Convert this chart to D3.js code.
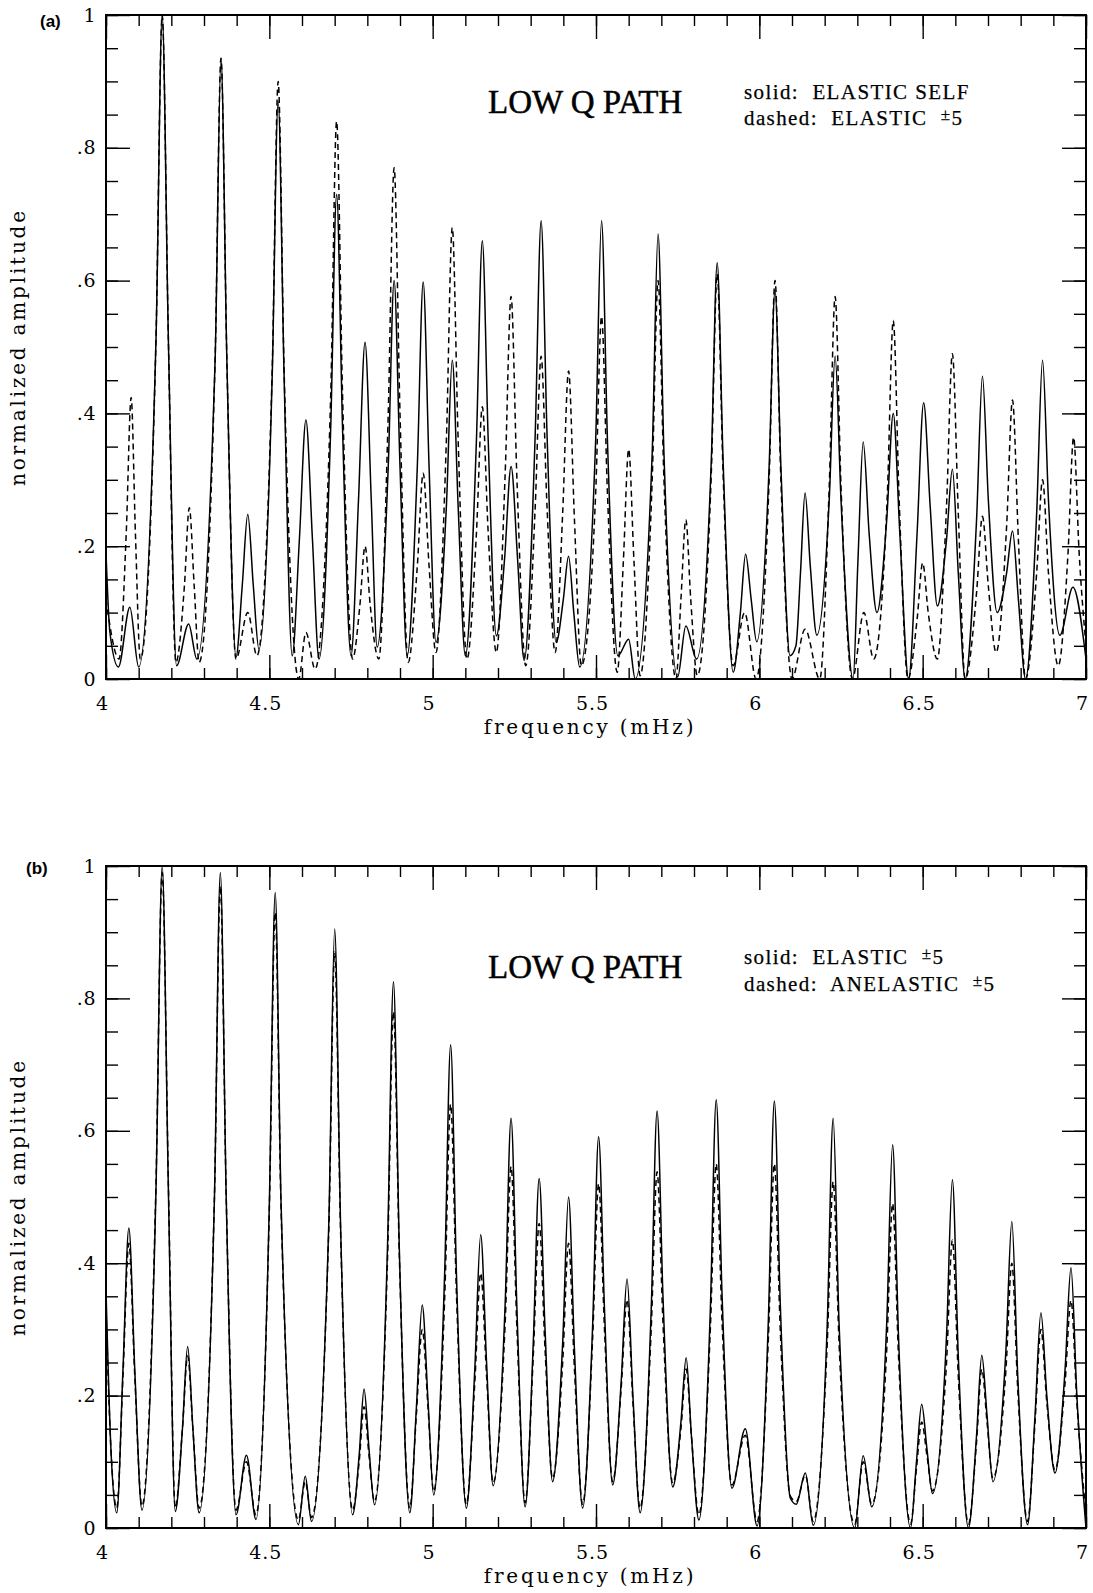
<!DOCTYPE html>
<html>
<head>
<meta charset="utf-8">
<script src="https://cdn.jsdelivr.net/npm/d3@7"></script>
<style>
  body { margin: 0; background: #fff; }
  svg { display: block; }
</style>
</head>
<body>
<svg id="chart" width="1093" height="1593"></svg>
<script>
// ---- axis values ----
const freqDomain = [4, 7];
const ampDomain = [0, 1];
const xTickValues = [4, 4.5, 5, 5.5, 6, 6.5, 7];
const xTickLabels = ["4", "4.5", "5", "5.5", "6", "6.5", "7"];
const yTickValues = [0, 0.2, 0.4, 0.6, 0.8, 1];
const yTickLabels = ["0", ".2", ".4", ".6", ".8", "1"];

// ---- spectra: [frequency (mHz), normalized amplitude] ----
// (a) solid: elastic, self coupling only
const elasticSelfA = [
  [4.000,0.190],[4.012,0.070],[4.038,0.018],[4.073,0.108],[4.100,0.018],
  [4.153,0.510],[4.172,1.000],[4.191,0.510],[4.216,0.020],
  [4.253,0.083],[4.278,0.030],
  [4.334,0.480],[4.352,0.935],[4.370,0.480],[4.398,0.033],
  [4.417,0.140],[4.434,0.248],[4.451,0.140],[4.468,0.045],
  [4.509,0.460],[4.527,0.870],[4.545,0.460],[4.570,0.035],
  [4.592,0.210],[4.612,0.390],[4.632,0.210],[4.652,0.030],
  [4.688,0.380],[4.706,0.730],[4.724,0.380],[4.750,0.035],
  [4.773,0.270],[4.793,0.507],[4.812,0.270],[4.830,0.048],
  [4.864,0.320],[4.882,0.600],[4.900,0.320],[4.922,0.035],
  [4.953,0.320],[4.971,0.598],[4.989,0.320],[5.010,0.055],
  [5.042,0.260],[5.060,0.480],[5.078,0.260],[5.100,0.035],
  [5.134,0.360],[5.152,0.660],[5.170,0.360],[5.195,0.065],
  [5.220,0.180],[5.240,0.320],[5.260,0.180],[5.280,0.028],
  [5.314,0.370],[5.332,0.690],[5.350,0.370],[5.378,0.055],
  [5.400,0.120],[5.416,0.185],[5.432,0.100],[5.450,0.018],
  [5.499,0.360],[5.517,0.690],[5.535,0.360],[5.567,0.035],
  [5.600,0.060],[5.620,0.000],
  [5.672,0.340],[5.690,0.670],[5.708,0.340],[5.750,0.003],
  [5.775,0.080],[5.808,0.030],
  [5.853,0.330],[5.871,0.627],[5.889,0.330],[5.920,0.010],
  [5.942,0.100],[5.958,0.188],[5.975,0.120],[5.992,0.056],
  [6.030,0.320],[6.048,0.585],[6.066,0.320],[6.094,0.035],[6.112,0.050],
  [6.126,0.160],[6.140,0.280],[6.156,0.170],[6.176,0.066],
  [6.214,0.270],[6.232,0.486],[6.250,0.270],[6.287,0.000],
  [6.302,0.180],[6.318,0.357],[6.336,0.220],[6.360,0.100],
  [6.390,0.240],[6.410,0.400],[6.430,0.220],[6.457,0.000],
  [6.483,0.220],[6.503,0.416],[6.523,0.260],[6.545,0.110],
  [6.573,0.210],[6.591,0.316],[6.609,0.160],[6.630,0.000],
  [6.665,0.240],[6.683,0.456],[6.701,0.270],[6.728,0.100],
  [6.757,0.160],[6.775,0.223],[6.793,0.120],[6.815,0.000],
  [6.849,0.250],[6.867,0.480],[6.885,0.270],[6.920,0.066],
  [6.960,0.138],[7.000,0.030]
];

// (a) dashed: elastic, coupling over +-5 degrees
const elasticPm5A = [
  [4.000,0.120],[4.040,0.030],
  [4.062,0.220],[4.077,0.424],[4.090,0.220],[4.105,0.030],
  [4.153,0.510],[4.172,1.000],[4.191,0.510],[4.214,0.025],
  [4.240,0.140],[4.255,0.258],[4.270,0.140],[4.285,0.025],
  [4.334,0.480],[4.352,0.935],[4.370,0.480],[4.398,0.030],
  [4.434,0.100],[4.462,0.035],
  [4.509,0.470],[4.527,0.900],[4.545,0.470],[4.590,0.000],
  [4.612,0.070],[4.640,0.015],
  [4.688,0.430],[4.706,0.840],[4.724,0.430],[4.755,0.030],
  [4.777,0.110],[4.793,0.200],[4.809,0.110],[4.835,0.030],
  [4.864,0.400],[4.882,0.770],[4.900,0.400],[4.925,0.025],
  [4.953,0.170],[4.971,0.310],[4.989,0.170],[5.010,0.040],
  [5.042,0.360],[5.060,0.680],[5.078,0.360],[5.105,0.030],
  [5.134,0.220],[5.152,0.410],[5.170,0.220],[5.195,0.040],
  [5.222,0.310],[5.240,0.576],[5.258,0.300],[5.285,0.020],
  [5.314,0.260],[5.332,0.486],[5.350,0.260],[5.375,0.040],
  [5.398,0.250],[5.416,0.464],[5.434,0.240],[5.455,0.020],
  [5.499,0.280],[5.517,0.546],[5.535,0.280],[5.565,0.010],
  [5.584,0.180],[5.600,0.346],[5.616,0.180],[5.635,0.005],
  [5.672,0.300],[5.690,0.600],[5.708,0.300],[5.745,0.000],
  [5.760,0.120],[5.775,0.240],[5.790,0.120],[5.810,0.005],
  [5.853,0.310],[5.871,0.610],[5.889,0.310],[5.920,0.020],
  [5.955,0.100],[5.990,0.000],
  [6.030,0.300],[6.048,0.600],[6.066,0.300],[6.100,0.000],
  [6.140,0.075],[6.185,0.000],
  [6.214,0.290],[6.232,0.576],[6.250,0.290],[6.285,0.000],
  [6.320,0.100],[6.350,0.030],
  [6.392,0.280],[6.410,0.540],[6.428,0.270],[6.455,0.000],
  [6.483,0.090],[6.500,0.175],[6.517,0.100],[6.545,0.030],
  [6.573,0.260],[6.591,0.490],[6.609,0.250],[6.630,0.000],
  [6.665,0.130],[6.683,0.245],[6.701,0.140],[6.725,0.040],
  [6.757,0.230],[6.775,0.420],[6.793,0.210],[6.815,0.000],
  [6.849,0.160],[6.867,0.300],[6.885,0.160],[6.915,0.020],
  [6.945,0.190],[6.962,0.364],[6.979,0.190],[7.000,0.050]
];

// (b) solid: elastic, coupling over +-5 degrees
const elasticPm5B = [
  [4.000,0.360],[4.015,0.120],[4.033,0.023],
  [4.052,0.240],[4.070,0.453],[4.088,0.240],[4.110,0.027],
  [4.153,0.510],[4.172,1.000],[4.191,0.510],[4.212,0.025],
  [4.234,0.150],[4.250,0.274],[4.266,0.150],[4.285,0.023],
  [4.332,0.500],[4.350,0.990],[4.368,0.500],[4.398,0.020],
  [4.430,0.110],[4.459,0.013],
  [4.500,0.490],[4.518,0.960],[4.536,0.490],[4.589,0.005],
  [4.610,0.078],[4.629,0.010],
  [4.682,0.460],[4.700,0.905],[4.718,0.460],[4.755,0.020],
  [4.775,0.110],[4.790,0.210],[4.805,0.120],[4.822,0.035],
  [4.862,0.430],[4.880,0.825],[4.898,0.420],[4.930,0.023],
  [4.950,0.180],[4.968,0.337],[4.986,0.190],[5.003,0.050],
  [5.037,0.390],[5.055,0.730],[5.073,0.380],[5.103,0.030],
  [5.129,0.240],[5.147,0.443],[5.165,0.250],[5.185,0.064],
  [5.222,0.340],[5.240,0.619],[5.258,0.330],[5.283,0.032],
  [5.308,0.280],[5.326,0.528],[5.344,0.300],[5.367,0.070],
  [5.398,0.280],[5.416,0.500],[5.434,0.270],[5.459,0.030],
  [5.490,0.310],[5.508,0.591],[5.526,0.330],[5.551,0.065],
  [5.577,0.220],[5.595,0.376],[5.613,0.200],[5.635,0.023],
  [5.669,0.330],[5.687,0.630],[5.705,0.350],[5.735,0.062],
  [5.760,0.160],[5.776,0.257],[5.792,0.140],[5.815,0.012],
  [5.850,0.330],[5.868,0.647],[5.886,0.350],[5.916,0.060],
  [5.957,0.150],[5.993,0.003],
  [6.028,0.320],[6.046,0.645],[6.064,0.340],[6.095,0.045],[6.113,0.036],
  [6.141,0.083],[6.165,0.004],
  [6.208,0.310],[6.226,0.619],[6.244,0.310],[6.292,0.000],
  [6.318,0.109],[6.344,0.032],
  [6.390,0.310],[6.408,0.579],[6.426,0.290],[6.463,0.000],
  [6.481,0.100],[6.497,0.187],[6.513,0.120],[6.530,0.052],
  [6.573,0.290],[6.591,0.526],[6.609,0.260],[6.640,0.000],
  [6.665,0.140],[6.681,0.261],[6.697,0.170],[6.715,0.070],
  [6.755,0.270],[6.773,0.463],[6.791,0.230],[6.821,0.005],
  [6.844,0.170],[6.862,0.325],[6.880,0.200],[6.905,0.083],
  [6.936,0.240],[6.954,0.393],[6.972,0.200],[7.000,0.000]
];

// (b) dashed: anelastic, coupling over +-5 degrees
const anelasticPm5B = [
  [4.000,0.330],[4.015,0.120],[4.033,0.030],
  [4.052,0.230],[4.070,0.430],[4.088,0.230],[4.110,0.033],
  [4.153,0.520],[4.172,0.990],[4.191,0.520],[4.212,0.030],
  [4.234,0.150],[4.250,0.260],[4.266,0.150],[4.285,0.030],
  [4.332,0.500],[4.350,0.970],[4.368,0.500],[4.398,0.027],
  [4.430,0.100],[4.459,0.020],
  [4.500,0.480],[4.518,0.930],[4.536,0.480],[4.589,0.012],
  [4.610,0.070],[4.629,0.016],
  [4.682,0.450],[4.700,0.870],[4.718,0.450],[4.755,0.027],
  [4.775,0.100],[4.790,0.183],[4.805,0.110],[4.822,0.040],
  [4.862,0.410],[4.880,0.780],[4.898,0.410],[4.930,0.030],
  [4.950,0.170],[4.968,0.300],[4.986,0.180],[5.003,0.055],
  [5.037,0.350],[5.055,0.640],[5.073,0.350],[5.103,0.036],
  [5.129,0.220],[5.147,0.385],[5.165,0.230],[5.185,0.068],
  [5.222,0.310],[5.240,0.546],[5.258,0.300],[5.283,0.038],
  [5.308,0.260],[5.326,0.460],[5.344,0.270],[5.367,0.075],
  [5.398,0.250],[5.416,0.430],[5.434,0.240],[5.459,0.036],
  [5.490,0.290],[5.508,0.520],[5.526,0.300],[5.551,0.070],
  [5.577,0.210],[5.595,0.345],[5.613,0.190],[5.635,0.030],
  [5.669,0.300],[5.687,0.538],[5.705,0.310],[5.735,0.068],
  [5.760,0.150],[5.776,0.240],[5.792,0.140],[5.815,0.020],
  [5.850,0.300],[5.868,0.550],[5.886,0.310],[5.916,0.065],
  [5.957,0.140],[5.993,0.010],
  [6.028,0.290],[6.046,0.550],[6.064,0.300],[6.095,0.048],[6.113,0.040],
  [6.141,0.080],[6.165,0.010],
  [6.208,0.280],[6.226,0.523],[6.244,0.280],[6.292,0.006],
  [6.318,0.100],[6.344,0.036],
  [6.390,0.270],[6.408,0.490],[6.426,0.260],[6.463,0.006],
  [6.481,0.090],[6.497,0.160],[6.513,0.110],[6.530,0.056],
  [6.573,0.250],[6.591,0.435],[6.609,0.230],[6.640,0.006],
  [6.665,0.130],[6.681,0.240],[6.697,0.160],[6.715,0.075],
  [6.755,0.240],[6.773,0.400],[6.791,0.210],[6.821,0.010],
  [6.844,0.160],[6.862,0.300],[6.880,0.190],[6.905,0.088],
  [6.936,0.220],[6.954,0.344],[6.972,0.190],[7.000,0.020]
];

// ---- layout ----
const plotLeft = 106, plotRight = 1086;
const panels = [
  {
    key: "a", tag: "(a)", tagX: 40, tagY: 27,
    top: 15, bottom: 679,
    solid: elasticSelfA, dashed: elasticPm5A,
    titleY: 113,
    legend: [
      { y: 99, parts: [["solid:  ELASTIC SELF"]] },
      { y: 125, parts: [["dashed:  ELASTIC  "], ["\u00B1", true], ["5"]] }
    ]
  },
  {
    key: "b", tag: "(b)", tagX: 26, tagY: 874,
    top: 866, bottom: 1528,
    solid: elasticPm5B, dashed: anelasticPm5B,
    titleY: 978,
    legend: [
      { y: 964, parts: [["solid:  ELASTIC  "], ["\u00B1", true], ["5"]] },
      { y: 991, parts: [["dashed:  ANELASTIC  "], ["\u00B1", true], ["5"]] }
    ]
  }
];

const svg = d3.select("#chart");
const x = d3.scaleLinear().domain(freqDomain).range([plotLeft, plotRight]);
const tickFont = "'DejaVu Serif', serif";
const textFont = "'Liberation Serif', 'Times New Roman', serif";

function styleAxis(sel) {
  sel.select(".domain").remove();
  sel.selectAll(".tick line").attr("stroke", "#000").attr("stroke-width", 1.4);
}

panels.forEach(p => {
  const y = d3.scaleLinear().domain(ampDomain).range([p.bottom, p.top]);
  const g = svg.append("g").attr("class", "panel-" + p.key);

  // clip for curves
  const clipId = "clip-" + p.key;
  svg.append("clipPath").attr("id", clipId)
    .append("rect")
    .attr("x", plotLeft).attr("y", p.top - 1)
    .attr("width", plotRight - plotLeft).attr("height", p.bottom - p.top + 1);

  const line = d3.line()
    .x(d => x(d[0]))
    .y(d => y(d[1]))
    .curve(d3.curveMonotoneX);

  const curves = g.append("g").attr("clip-path", `url(#${clipId})`);
  curves.append("path")
    .datum(p.solid)
    .attr("d", line)
    .attr("fill", "none")
    .attr("stroke", "#000")
    .attr("stroke-width", 1.5)
    .attr("stroke-linejoin", "round");
  curves.append("path")
    .datum(p.dashed)
    .attr("d", line)
    .attr("fill", "none")
    .attr("stroke", "#000")
    .attr("stroke-width", 1.5)
    .attr("stroke-dasharray", "6,4");

  // ticks: minor every 0.1 mHz / 0.05, major at labelled values, all pointing inward
  const minorX = x.ticks(30);
  const minorY = y.ticks(20);

  g.append("g").attr("transform", `translate(0,${p.bottom})`)
    .call(d3.axisBottom(x).tickValues(minorX).tickSize(-11).tickFormat(""))
    .call(styleAxis);
  g.append("g").attr("transform", `translate(0,${p.top})`)
    .call(d3.axisTop(x).tickValues(minorX).tickSize(-11).tickFormat(""))
    .call(styleAxis);
  g.append("g").attr("transform", `translate(0,${p.top})`)
    .call(d3.axisTop(x).tickValues(xTickValues).tickSize(-24).tickFormat(""))
    .call(styleAxis);
  g.append("g").attr("transform", `translate(${plotLeft},0)`)
    .call(d3.axisLeft(y).tickValues(minorY).tickSize(-12).tickFormat(""))
    .call(styleAxis);
  g.append("g").attr("transform", `translate(${plotRight},0)`)
    .call(d3.axisRight(y).tickValues(minorY).tickSize(-12).tickFormat(""))
    .call(styleAxis);
  g.append("g").attr("transform", `translate(${plotRight},0)`)
    .call(d3.axisRight(y).tickValues(yTickValues).tickSize(-24).tickFormat(""))
    .call(styleAxis);

  const xAxis = g.append("g").attr("transform", `translate(0,${p.bottom})`)
    .call(d3.axisBottom(x).tickValues(xTickValues).tickSize(-24).tickPadding(18)
      .tickFormat((d, i) => xTickLabels[i]))
    .call(styleAxis);
  xAxis.attr("font-family", tickFont).attr("font-size", 19);
  xAxis.selectAll(".tick text").attr("letter-spacing", 1).attr("dx", -4);

  const yAxis = g.append("g").attr("transform", `translate(${plotLeft},0)`)
    .call(d3.axisLeft(y).tickValues(yTickValues).tickSize(-24).tickPadding(10)
      .tickFormat((d, i) => yTickLabels[i]))
    .call(styleAxis);
  yAxis.attr("font-family", tickFont).attr("font-size", 19);
  yAxis.selectAll(".tick text").attr("letter-spacing", 0.5);

  // frame
  g.append("rect")
    .attr("x", plotLeft).attr("y", p.top)
    .attr("width", plotRight - plotLeft).attr("height", p.bottom - p.top)
    .attr("fill", "none").attr("stroke", "#000").attr("stroke-width", 2);

  // axis titles
  g.append("text")
    .attr("x", (plotLeft + plotRight) / 2 - 6).attr("y", p.bottom + 55)
    .attr("text-anchor", "middle")
    .attr("font-family", tickFont).attr("font-size", 20)
    .attr("letter-spacing", 2.8)
    .text("frequency (mHz)");
  g.append("text")
    .attr("transform", `translate(25,${(p.top + p.bottom) / 2}) rotate(-90)`)
    .attr("text-anchor", "middle")
    .attr("font-family", tickFont).attr("font-size", 20)
    .attr("letter-spacing", 2.8)
    .text("normalized amplitude");

  // panel tag
  g.append("text")
    .attr("x", p.tagX).attr("y", p.tagY)
    .attr("font-family", "'Liberation Sans', Arial, sans-serif")
    .attr("font-weight", "bold").attr("font-size", 17)
    .text(p.tag);

  // title and legend text
  g.append("text")
    .attr("x", 488).attr("y", p.titleY)
    .attr("font-family", textFont).attr("font-size", 33)
    .attr("stroke", "#000").attr("stroke-width", 0.5)
    .text("LOW Q PATH");

  p.legend.forEach(row => {
    const t = g.append("text")
      .attr("x", 744).attr("y", row.y)
      .attr("font-family", textFont).attr("font-size", 21)
      .attr("letter-spacing", 1.4)
      .attr("stroke", "#000").attr("stroke-width", 0.25)
      .attr("xml:space", "preserve")
      .style("white-space", "pre");
    let raised = false;
    row.parts.forEach(([s, small]) => {
      const ts = t.append("tspan").text(s);
      if (small) { ts.attr("font-size", 17).attr("dy", -5); raised = true; }
      else if (raised) { ts.attr("dy", 5); raised = false; }
    });
  });
});
</script>
</body>
</html>
